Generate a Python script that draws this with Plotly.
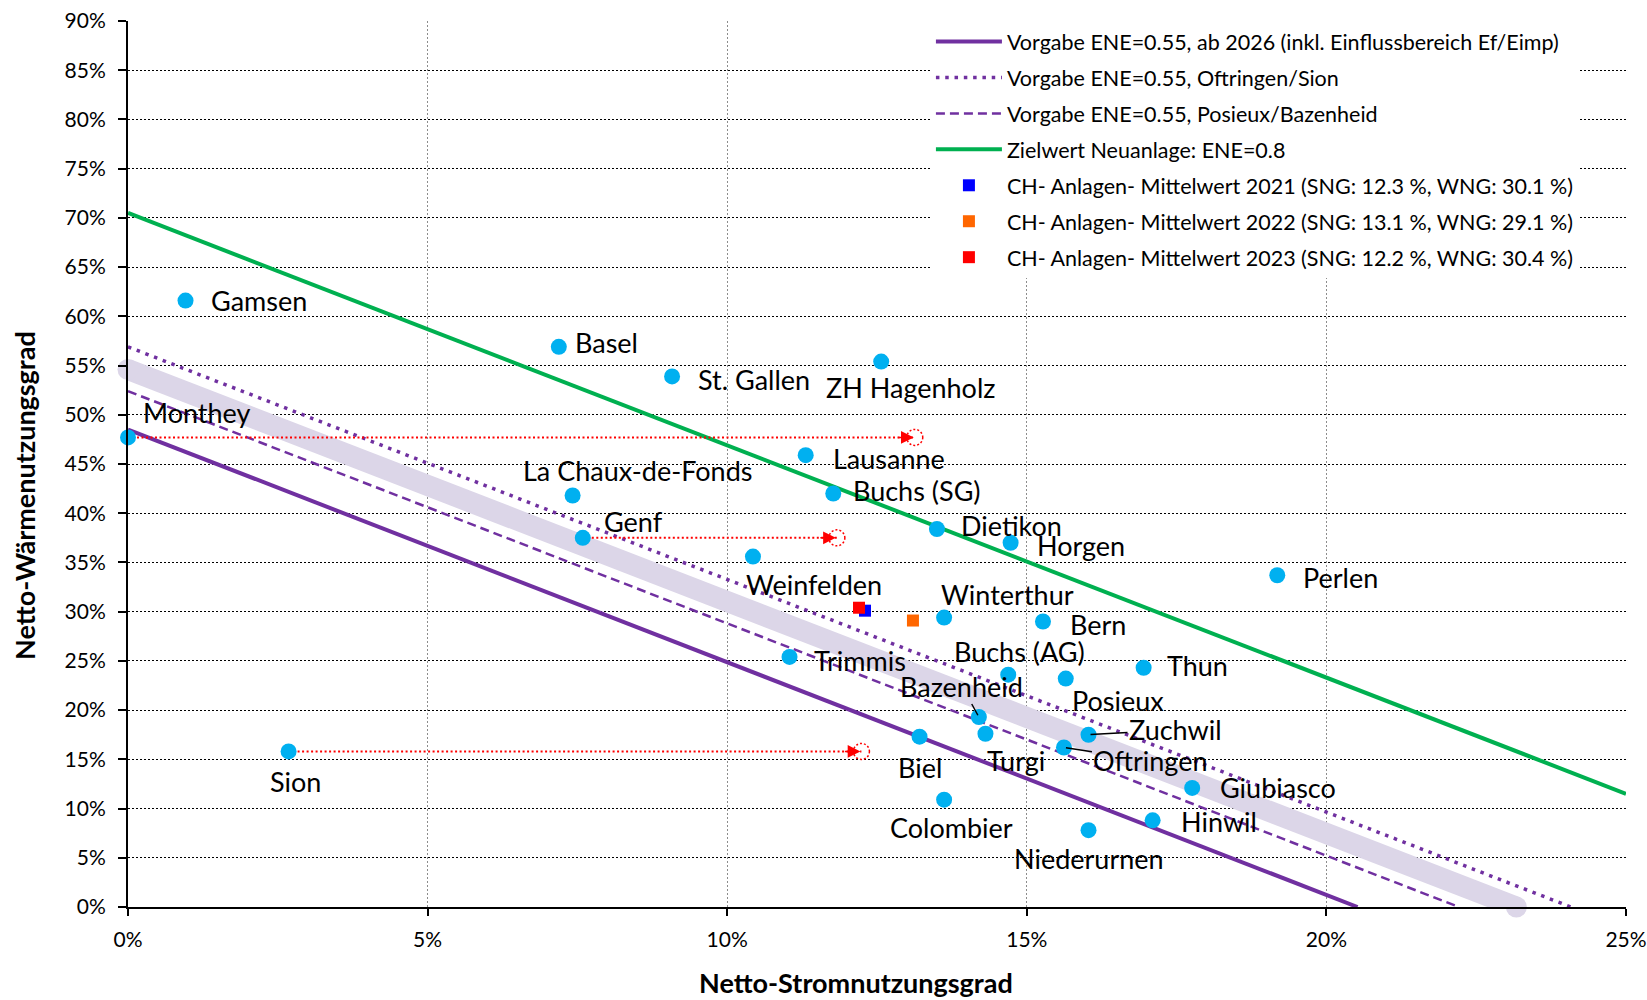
import plotly.graph_objects as go

# ---------------- data ----------------
plants = ["Gamsen", "Basel", "St. Gallen", "ZH Hagenholz", "Monthey", "Lausanne",
          "La Chaux-de-Fonds", "Buchs (SG)", "Dietikon", "Horgen", "Genf", "Weinfelden",
          "Perlen", "Winterthur", "Bern", "Trimmis", "Buchs (AG)", "Posieux", "Thun",
          "Bazenheid", "Turgi", "Biel", "Zuchwil", "Oftringen", "Sion", "Giubiasco",
          "Colombier", "Hinwil", "Niederurnen"]
sng = [0.96, 7.19, 9.08, 12.57, 0.0, 11.31, 7.42, 11.77, 13.50, 14.73, 7.59, 10.43,
       19.18, 13.62, 15.27, 11.04, 14.69, 15.65, 16.95, 14.20, 14.31, 13.21, 16.03,
       15.62, 2.68, 17.76, 13.62, 17.10, 16.03]
wng = [61.6, 56.9, 53.9, 55.4, 47.7, 45.9, 41.8, 42.0, 38.4, 37.0, 37.5, 35.6,
       33.7, 29.4, 29.0, 25.4, 23.6, 23.2, 24.3, 19.3, 17.6, 17.3, 17.5,
       16.2, 15.8, 12.1, 10.9, 8.8, 7.8]

# reference lines (SNG %, WNG %)
line_2026_x = [0.0, 20.52]
line_2026_y = [48.5, 0.0]
line_oft_x = [0.0, 24.08]
line_oft_y = [56.9, 0.0]
line_pos_x = [0.0, 22.21]
line_pos_y = [52.4, 0.0]
line_ziel_x = [0.0, 25.0]
line_ziel_y = [70.5, 11.5]
band_x = [0.0, 23.17]
band_y = [54.6, 0.0]

# annual means
mean_names = ["CH- Anlagen- Mittelwert 2021 (SNG: 12.3 %, WNG: 30.1 %)",
              "CH- Anlagen- Mittelwert 2022 (SNG: 13.1 %, WNG: 29.1 %)",
              "CH- Anlagen- Mittelwert 2023 (SNG: 12.2 %, WNG: 30.4 %)"]
mean_sng = [12.3, 13.1, 12.2]
mean_wng = [30.1, 29.1, 30.4]

# shifted positions (Einflussbereich Ef/Eimp)
arrow_src = ["Monthey", "Genf", "Sion"]
arrow_target_sng = [13.13, 11.83, 12.24]

x_ticks = [0, 5, 10, 15, 20, 25]
y_ticks = list(range(0, 91, 5))

# ---------------- style ----------------
PURPLE = "#7030A0"
GREEN = "#00B050"
BAND = "#DCD6E8"
POINT = "#00B0F0"
mean_colors = ["#0000FF", "#FF6600", "#FF0000"]
FONT = "Lato, 'Open Sans', sans-serif"
LBL = 27

# label placement: (anchor, xshift, yshift)  or ('leader', ax, ay)
label_style = {
    "Gamsen": ("left", 23, 0), "Basel": ("left", 14, 4), "St. Gallen": ("left", 24, -3),
    "ZH Hagenholz": ("center", 30, -26), "Monthey": ("left", 13, 25),
    "Lausanne": ("left", 25, -3), "La Chaux-de-Fonds": ("center", 65, 25),
    "Buchs (SG)": ("left", 18, 3), "Dietikon": ("left", 22, 3), "Horgen": ("left", 24, -3),
    "Genf": ("left", 19, 16), "Weinfelden": ("center", 61, -28), "Perlen": ("left", 24, -2),
    "Winterthur": ("center", 63, 23), "Bern": ("left", 25, -3), "Trimmis": ("left", 22, -4),
    "Buchs (AG)": ("center", 11, 23), "Posieux": ("center", 52, -22), "Thun": ("left", 21, 2),
    "Bazenheid": ("leader", -17, -31), "Turgi": ("center", 31, -27), "Biel": ("center", 0, -31),
    "Zuchwil": ("leader", 87, -5), "Oftringen": ("leader", 87, 13), "Sion": ("center", 7, -30),
    "Giubiasco": ("left", 26, 0), "Colombier": ("center", 7, -28), "Hinwil": ("left", 26, -1),
    "Niederurnen": ("center", 0, -28),
}

fig = go.Figure()

# band
fig.add_trace(go.Scatter(x=band_x, y=band_y, mode="lines", line=dict(color=BAND, width=21),
                         showlegend=False, hoverinfo="skip"))
fig.add_trace(go.Scatter(x=band_x, y=band_y, mode="markers", cliponaxis=False,
                         marker=dict(color=BAND, size=21, symbol="circle", line=dict(width=0)),
                         showlegend=False, hoverinfo="skip"))

# reference lines
fig.add_trace(go.Scatter(x=line_2026_x, y=line_2026_y, mode="lines",
                         name="Vorgabe ENE=0.55, ab 2026 (inkl. Einflussbereich Ef/Eimp)",
                         legendgroup="a", line=dict(color=PURPLE, width=4)))
fig.add_trace(go.Scatter(x=line_oft_x, y=line_oft_y, mode="lines",
                         name="Vorgabe ENE=0.55, Oftringen/Sion", legendgroup="b",
                         line=dict(color=PURPLE, width=3.5, dash="3.5px,5.8px")))
fig.add_trace(go.Scatter(x=line_pos_x, y=line_pos_y, mode="lines",
                         name="Vorgabe ENE=0.55, Posieux/Bazenheid", legendgroup="c",
                         line=dict(color=PURPLE, width=2.5, dash="9px,5px")))
fig.add_trace(go.Scatter(x=line_ziel_x, y=line_ziel_y, mode="lines",
                         name="Zielwert Neuanlage: ENE=0.8", legendgroup="d",
                         line=dict(color=GREEN, width=4)))

# red dotted shift arrows
shapes = []
annotations = []
for name, tx in zip(arrow_src, arrow_target_sng):
    i = plants.index(name)
    fig.add_trace(go.Scatter(x=[sng[i], tx], y=[wng[i], wng[i]], mode="lines",
                             line=dict(color="#FF0000", width=2, dash="2px,2.5px"),
                             showlegend=False, hoverinfo="skip"))
    annotations.append(dict(x=tx, y=wng[i], xref="x", yref="y", ax=-17, ay=0, xshift=-1,
                            showarrow=True, arrowhead=2, arrowsize=1.7, arrowwidth=1.5,
                            arrowcolor="#FF0000", text="", standoff=0))
    shapes.append(dict(type="circle", xref="x", yref="y", xsizemode="pixel", ysizemode="pixel",
                       xanchor=tx, yanchor=wng[i], x0=-8, x1=8, y0=-8, y1=8,
                       line=dict(color="#FF0000", width=1.5, dash="2px,2px")))

# plants
fig.add_trace(go.Scatter(x=sng, y=wng, mode="markers", cliponaxis=False,
                         marker=dict(color=POINT, size=16, line=dict(width=0)),
                         text=plants, showlegend=False))

# means
for nm, mx, my, c, g in zip(mean_names, mean_sng, mean_wng, mean_colors, ["e", "f", "g"]):
    fig.add_trace(go.Scatter(x=[mx], y=[my], mode="markers", name=nm, legendgroup=g,
                             marker=dict(color=c, size=12, symbol="square", line=dict(width=0))))

# plant labels
for name, x, y in zip(plants, sng, wng):
    kind, a, b = label_style[name]
    if kind == "leader":
        annotations.append(dict(x=x, y=y, xref="x", yref="y", text=name, showarrow=True,
                                arrowhead=0, arrowwidth=1.5, arrowcolor="black", ax=a, ay=b,
                                standoff=2, font=dict(size=LBL, color="black", family=FONT)))
    else:
        annotations.append(dict(x=x, y=y, xref="x", yref="y", text=name, showarrow=False,
                                xanchor=kind, yanchor="middle", xshift=a, yshift=b,
                                font=dict(size=LBL, color="black", family=FONT)))

# axis titles
annotations.append(dict(x=0.486, y=0, xref="paper", yref="paper", yshift=-75,
                        text="<b>Netto-Stromnutzungsgrad</b>",
                        showarrow=False, xanchor="center", yanchor="middle",
                        font=dict(size=27, color="black", family=FONT)))
annotations.append(dict(x=0, y=0.464, xref="paper", yref="paper", xshift=-103,
                        text="<b>Netto-Wärmenutzungsgrad</b>",
                        showarrow=False, xanchor="center", yanchor="middle", textangle=-90,
                        font=dict(size=27, color="black", family=FONT)))

fig.update_layout(
    width=1647, height=1000,
    margin=dict(l=128, r=21, t=21, b=93, autoexpand=False),
    paper_bgcolor="white", plot_bgcolor="white",
    font=dict(family=FONT, color="black"),
    showlegend=True,
    legend=dict(x=0.536, y=1.0, xanchor="left", yanchor="top", bgcolor="white",
                font=dict(size=21.5, color="black", family=FONT), itemwidth=66,
                tracegroupgap=5, traceorder="grouped"),
    shapes=shapes, annotations=annotations,
)
fig.update_xaxes(range=[0, 25], tickvals=x_ticks, ticktext=[f"{v}%" for v in x_ticks],
                 automargin=False,
                 showline=True, linecolor="black", linewidth=2, ticks="outside", ticklen=7,
                 tickwidth=1.5, tickcolor="black", showgrid=True, gridcolor="#8c8c8c",
                 gridwidth=1.3, griddash="2px,2px", zeroline=False,
                 tickfont=dict(size=21, color="black", family=FONT), ticklabelstandoff=6)
fig.update_yaxes(range=[0, 90], tickvals=y_ticks, ticktext=[f"{v}%" for v in y_ticks],
                 automargin=False,
                 showline=True, linecolor="black", linewidth=2, ticks="outside", ticklen=8,
                 tickwidth=1.5, tickcolor="black", showgrid=True, gridcolor="black",
                 gridwidth=1.3, griddash="2px,2px", zeroline=False,
                 tickfont=dict(size=21, color="black", family=FONT), ticklabelstandoff=8)

fig.write_html("out.html", config={"displayModeBar": False},
               post_script="document.body.style.margin='0';document.body.style.overflow='hidden';")
